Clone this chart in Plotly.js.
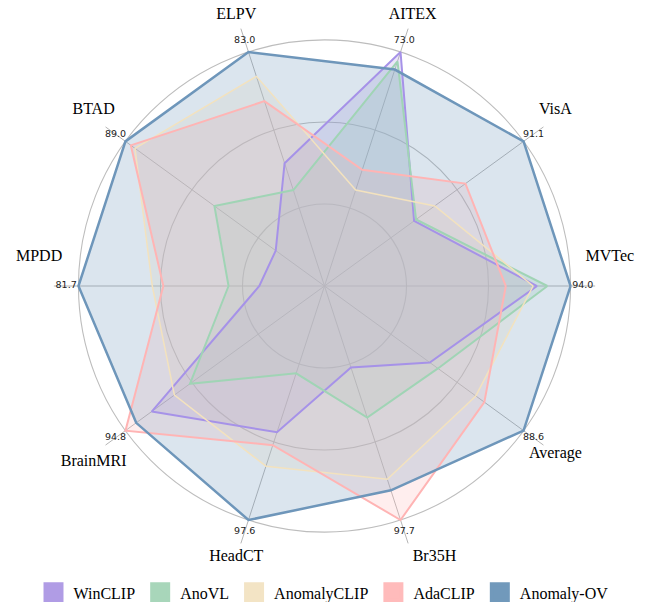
<!DOCTYPE html>
<html>
<head>
<meta charset="utf-8">
<script src="https://cdn.plot.ly/plotly-3.0.1.min.js"></script>
<style>html,body{margin:0;padding:0;background:#fff;}#chart{width:647px;height:602px;}</style>
</head>
<body>
<div id="chart"></div>
<script>
// Axes (counter-clockwise from the right)
const categories = ['MVTec','VisA','AITEX','ELPV','BTAD','MPDD','BrainMRI','HeadCT','Br35H','Average'];
// Per-axis maximum labels (value at the outer ring)
const axisMax = ['94.0','91.1','73.0','83.0','89.0','81.7','94.8','97.6','97.7','88.6'];
// Normalised scores (fraction of the outer ring)
const winclip     = [0.864, 0.450, 1.000, 0.525, 0.245, 0.265, 0.868, 0.625, 0.348, 0.529];
const anovl       = [0.906, 0.460, 0.960, 0.410, 0.553, 0.390, 0.676, 0.373, 0.562, 0.570];
const anomalyclip = [0.848, 0.554, 0.410, 0.896, 0.952, 0.700, 0.754, 0.770, 0.826, 0.760];
const adaclip     = [0.737, 0.708, 0.497, 0.790, 0.973, 0.655, 1.000, 0.680, 1.000, 0.803];
const anomalyov   = [1.000, 1.000, 0.925, 1.000, 1.000, 1.000, 0.946, 1.000, 0.873, 1.000];
const seriesNames = ['WinCLIP','AnoVL','AnomalyCLIP','AdaCLIP','Anomaly-OV'];

const seriesData = [winclip, anovl, anomalyclip, adaclip, anomalyov];
const colors = [[176,156,229],[168,214,186],[243,228,197],[255,187,187],[113,153,187]];
const lineColors = [[166,146,232],[160,212,181],[243,226,190],[255,180,180],[110,150,186]];
const widths = [2, 2, 1.5, 2, 2.5];
const rgb = c => `rgb(${c[0]},${c[1]},${c[2]})`;
const rgba = (c,a) => `rgba(${c[0]},${c[1]},${c[2]},${a})`;

const traces = [];
// spokes extending slightly past the outer ring
const spokeR = [], spokeT = [];
categories.forEach(c => { spokeR.push(0, 1.1, null); spokeT.push(c, c, c); });
traces.push({
  type: 'scatterpolar', r: spokeR, theta: spokeT, mode: 'lines',
  line: {color: '#b5b5b5', width: 1}, connectgaps: false,
  showlegend: false, hoverinfo: 'skip'
});
// fills
seriesData.forEach((vals, i) => {
  traces.push({
    type: 'scatterpolar',
    r: vals.concat([vals[0]]),
    theta: categories.concat([categories[0]]),
    mode: 'lines',
    fill: 'toself',
    fillcolor: rgba(colors[i], 0.25),
    line: {color: 'rgba(0,0,0,0)', width: 0},
    showlegend: false,
    hoverinfo: 'skip'
  });
});
// outlines
seriesData.forEach((vals, i) => {
  traces.push({
    type: 'scatterpolar',
    r: vals.concat([vals[0]]),
    theta: categories.concat([categories[0]]),
    mode: 'lines',
    line: {color: rgb(lineColors[i]), width: widths[i]},
    name: seriesNames[i],
    showlegend: false,
    hoverinfo: 'skip'
  });
});
// max labels
traces.push({
  type: 'scatterpolar',
  r: categories.map(() => 1.05),
  theta: categories,
  mode: 'text',
  text: axisMax,
  textposition: 'middle center',
  textfont: {family: 'DejaVu Sans', size: 9.5, color: '#222'},
  cliponaxis: false,
  showlegend: false,
  hoverinfo: 'skip'
});
// category labels (MVTec / MPDD sit above their spoke)
const labelPos = {MVTec: 'top center', VisA: 'top center', BTAD: 'top center', MPDD: 'top center',
                  BrainMRI: 'bottom center', Br35H: 'middle right'};
const raised = {MVTec: true, MPDD: true};
traces.push({
  type: 'scatterpolar',
  r: categories.map(() => 1.16),
  theta: categories,
  mode: 'text',
  text: categories.map(c => raised[c] ? c + '<br> ' : c),
  textposition: categories.map(c => labelPos[c] || 'middle center'),
  textfont: {family: 'Liberation Serif, Times New Roman, serif', size: 16, color: '#000'},
  cliponaxis: false,
  showlegend: false,
  hoverinfo: 'skip'
});
// legend swatches (points placed outside the radial range, so only the legend shows them)
seriesNames.forEach((n, i) => {
  traces.push({
    type: 'scatterpolar',
    r: [5], theta: [categories[0]],
    mode: 'markers',
    marker: {symbol: 'square', size: 16, color: rgb(colors[i]), line: {color: rgb(colors[i]), width: 4}},
    name: n,
    showlegend: true,
    hoverinfo: 'skip'
  });
});

const layout = {
  width: 647, height: 602,
  margin: {l: 0, r: 0, t: 0, b: 0, autoexpand: false},
  paper_bgcolor: '#fff',
  showlegend: true,
  legend: {
    orientation: 'h', x: 0.5, xanchor: 'center', y: 0.016, yanchor: 'middle',
    font: {family: 'Liberation Serif, Times New Roman, serif', size: 16, color: '#000'},
    itemsizing: 'trace', traceorder: 'normal', bgcolor: 'rgba(0,0,0,0)'
  },
  polar: {
    domain: {x: [0.0604, 0.9427], y: [0.0508, 0.999]},
    bgcolor: 'rgba(0,0,0,0)',
    angularaxis: {
      type: 'category', categoryorder: 'array', categoryarray: categories,
      rotation: 0, direction: 'counterclockwise',
      showticklabels: false, ticks: '', showline: false, showgrid: false
    },
    radialaxis: {
      range: [0, 1.16], tickvals: [1/3, 2/3, 1],
      showticklabels: false, ticks: '', showline: false,
      showgrid: true, gridcolor: '#bdbdbd', gridwidth: 1.1
    }
  }
};

Plotly.newPlot('chart', traces, layout, {displayModeBar: false, staticPlot: true});
</script>
</body>
</html>
